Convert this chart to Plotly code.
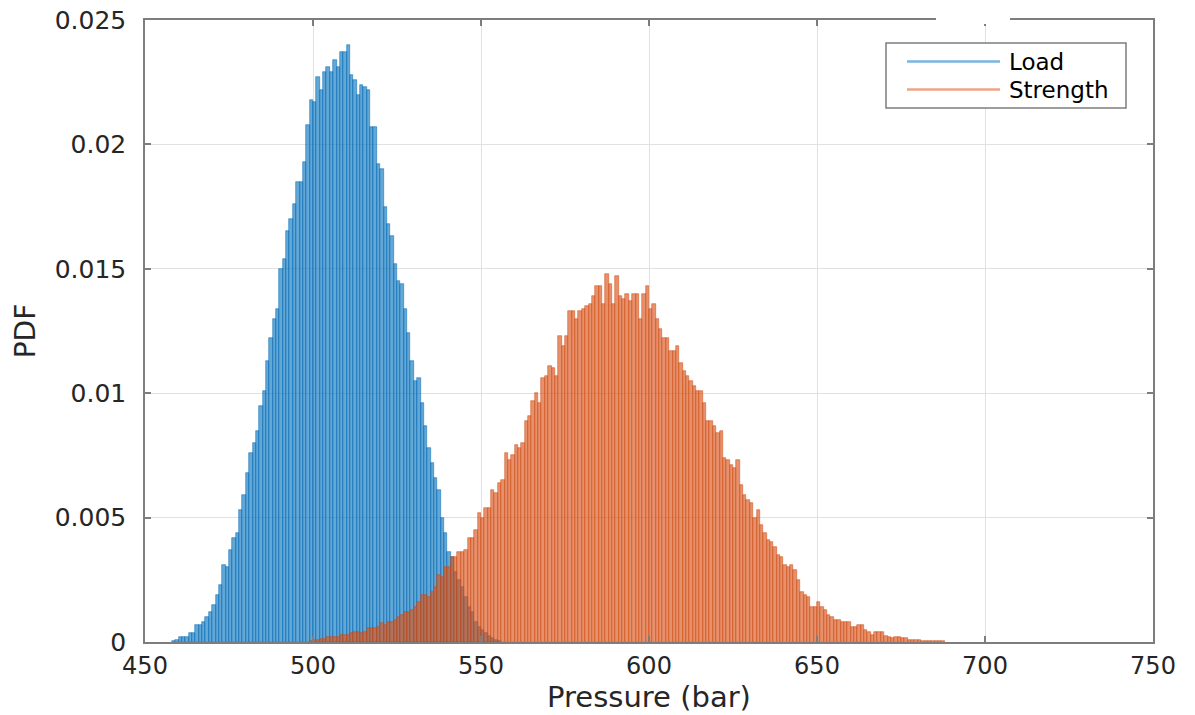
import plotly.graph_objects as go

# ---------------- data ----------------
bin_width = 1.0
load_first_center = 458.5
load_pdf = [
    0.00005, 0.0001, 0.0002, 0.0002, 0.0002, 0.00035, 0.00037, 0.0007, 0.0007, 0.0008,
    0.0010, 0.0012, 0.0015, 0.0019, 0.0023, 0.0031, 0.0030, 0.0037, 0.0042, 0.0044,
    0.0053, 0.0059, 0.0068, 0.0076, 0.0080, 0.0085, 0.0095, 0.0101, 0.0113, 0.0122,
    0.0130, 0.0134, 0.0150, 0.0154, 0.0165, 0.0170, 0.0176, 0.0185, 0.0185, 0.0193,
    0.0208, 0.0218, 0.0217, 0.0227, 0.0222, 0.0229, 0.0231, 0.0229, 0.0234, 0.0231,
    0.0237, 0.0237, 0.0240, 0.0228, 0.0226, 0.0220, 0.0224, 0.0223, 0.0222, 0.0207,
    0.0207, 0.0192, 0.0190, 0.0175, 0.0168, 0.0163, 0.0152, 0.0145, 0.0144, 0.0134,
    0.0124, 0.0113, 0.0105, 0.0106, 0.0096, 0.0087, 0.0078, 0.0072, 0.0066, 0.0061,
    0.0050, 0.0044, 0.0036, 0.0034, 0.0028, 0.0025, 0.0022, 0.0018, 0.0014, 0.0012,
    0.0008, 0.0006, 0.0005, 0.00035, 0.00024, 0.00015, 0.0001, 0.00005,
]

strength_first_center = 499.5
strength_pdf = [
    0.00005, 0.0001, 0.0001, 0.00012, 0.00012, 0.0002, 0.0002, 0.0002, 0.0002, 0.0003,
    0.0003, 0.0003, 0.00035, 0.0004, 0.0004, 0.00035, 0.0004, 0.00056, 0.00056, 0.00056,
    0.0006, 0.00078, 0.0007, 0.0008, 0.0008, 0.0009, 0.0010, 0.0011, 0.0012, 0.0012,
    0.0013, 0.0014, 0.0016, 0.0019, 0.0019, 0.0018, 0.0020, 0.0022, 0.0027, 0.0026,
    0.0030, 0.0030, 0.0034, 0.0034, 0.0036, 0.0036, 0.0037, 0.0042, 0.0042, 0.0045,
    0.0052, 0.0050, 0.0054, 0.0054, 0.0061, 0.0060, 0.0064, 0.0065, 0.0076, 0.0073,
    0.0075, 0.0079, 0.0078, 0.0080, 0.0089, 0.0091, 0.0097, 0.0100, 0.0096, 0.0106,
    0.0107, 0.0111, 0.0110, 0.0107, 0.0123, 0.0119, 0.0123, 0.0133, 0.0133, 0.0130,
    0.0133, 0.0134, 0.0135, 0.0136, 0.0139, 0.0143, 0.0143, 0.0136, 0.0148, 0.0144,
    0.0136, 0.0147, 0.0139, 0.0138, 0.0140, 0.0137, 0.0140, 0.0140, 0.0130, 0.0140,
    0.0143, 0.0134, 0.0136, 0.0130, 0.0126, 0.0122, 0.0122, 0.0117, 0.0117, 0.0119,
    0.0112, 0.0109, 0.0107, 0.0105, 0.0103, 0.0101, 0.0101, 0.0096, 0.0089, 0.0089,
    0.0087, 0.0084, 0.0085, 0.0074, 0.0073, 0.0071, 0.0070, 0.0073, 0.0063, 0.0059,
    0.0057, 0.0056, 0.0050, 0.0053, 0.0047, 0.0044, 0.0041, 0.0040, 0.0038, 0.0035,
    0.0034, 0.0031, 0.0030, 0.0031, 0.0029, 0.0025, 0.0020, 0.0019, 0.0018, 0.0014,
    0.0014, 0.0016, 0.0014, 0.0013, 0.0011, 0.0010, 0.0009, 0.0009, 0.0008, 0.0008,
    0.0008, 0.0006, 0.0006, 0.0007, 0.0007, 0.0005, 0.0004, 0.0003, 0.0004, 0.0004,
    0.0004, 0.00025, 0.0002, 0.00018, 0.0002, 0.0002, 0.00018, 0.00015, 0.0001, 0.0001,
    0.0001, 0.0001, 0.00005, 0.00005, 0.00004, 0.00003, 0.00005, 0.00005, 0.00003,
]

series_names = ["Load", "Strength"]
x_tick_vals = [450, 500, 550, 600, 650, 700, 750]
x_tick_text = ["450", "500", "550", "600", "650", "700", "750"]
y_tick_vals = [0, 0.005, 0.01, 0.015, 0.02, 0.025]
y_tick_text = ["0", "0.005", "0.01", "0.015", "0.02", "0.025"]
x_label = "Pressure (bar)"
y_label = "PDF"

# ---------------- styling ----------------
FONT = "DejaVu Sans"
TXT = "#262626"
BLUE_FILL = "rgba(0,114,189,0.62)"
BLUE_EDGE = "rgba(0,100,180,0.85)"
ORANGE_FILL = "rgba(217,83,25,0.64)"
ORANGE_EDGE = "rgba(205,72,15,0.85)"
LEG_BLUE = "#7ab6e2"
LEG_ORANGE = "#eea584"

fig = go.Figure()
fig.add_trace(go.Bar(
    x0=load_first_center, dx=bin_width, y=load_pdf, name=series_names[0],
    marker=dict(color=BLUE_FILL, line=dict(color=BLUE_EDGE, width=0.6)),
    showlegend=False,
))
fig.add_trace(go.Bar(
    x0=strength_first_center, dx=bin_width, y=strength_pdf, name=series_names[1],
    marker=dict(color=ORANGE_FILL, line=dict(color=ORANGE_EDGE, width=0.6)),
    showlegend=False,
))

axis_common = dict(
    showline=True, linecolor="#7d7d7d", linewidth=1.5, mirror="ticks",
    ticks="inside", ticklen=6, tickwidth=1.5, tickcolor="#7d7d7d",
    showgrid=True, gridcolor="#e1e1e1", gridwidth=1, zeroline=False,
    automargin=False,
)

fig.update_layout(
    width=1195, height=715,
    margin=dict(l=145, r=42, t=20, b=73),
    paper_bgcolor="white", plot_bgcolor="white",
    barmode="overlay", bargap=0,
    font=dict(family=FONT, color=TXT),
    xaxis=dict(range=[450, 750], tickvals=x_tick_vals, ticktext=x_tick_text,
               tickfont=dict(family=FONT, size=24, color=TXT),
               title=dict(text=x_label, font=dict(family=FONT, size=29, color=TXT), standoff=4),
               ticklabelstandoff=1, **axis_common),
    yaxis=dict(range=[0, 0.025], tickvals=y_tick_vals, ticktext=y_tick_text,
               tickfont=dict(family=FONT, size=25, color=TXT),
               title=dict(text=y_label, font=dict(family=FONT, size=28, color=TXT), standoff=11),
               ticklabelstandoff=12, **axis_common),
)

# custom legend (MATLAB style: long line samples in a boxed legend)
fig.add_shape(type="rect", xref="paper", yref="paper",
              x0=(886 - 145) / 1008, x1=(1126 - 145) / 1008,
              y0=(642 - 108) / 622, y1=(642 - 43) / 622,
              line=dict(color="#7d7d7d", width=1.5), fillcolor="white", layer="above")
legend_rows = [(series_names[0], LEG_BLUE, 61.5), (series_names[1], LEG_ORANGE, 89.5)]
for name, col, ypix in legend_rows:
    yp = (642 - ypix) / 622
    fig.add_shape(type="line", xref="paper", yref="paper",
                  x0=(907 - 145) / 1008, x1=(1000 - 145) / 1008, y0=yp, y1=yp,
                  line=dict(color=col, width=2.5), layer="above")
    fig.add_annotation(xref="paper", yref="paper", x=(1007 - 145) / 1008, y=yp,
                       text=name, showarrow=False, xanchor="left", yanchor="middle",
                       font=dict(family=FONT, size=23, color="#000000"))

# small white gap in the top border (as in the reference)
fig.add_shape(type="rect", xref="paper", yref="paper",
              x0=(936 - 145) / 1008, x1=(1010 - 145) / 1008,
              y0=(642 - 24) / 622, y1=(642 - 12) / 622,
              line=dict(width=0), fillcolor="white", layer="above")

fig.write_html("out.html")
